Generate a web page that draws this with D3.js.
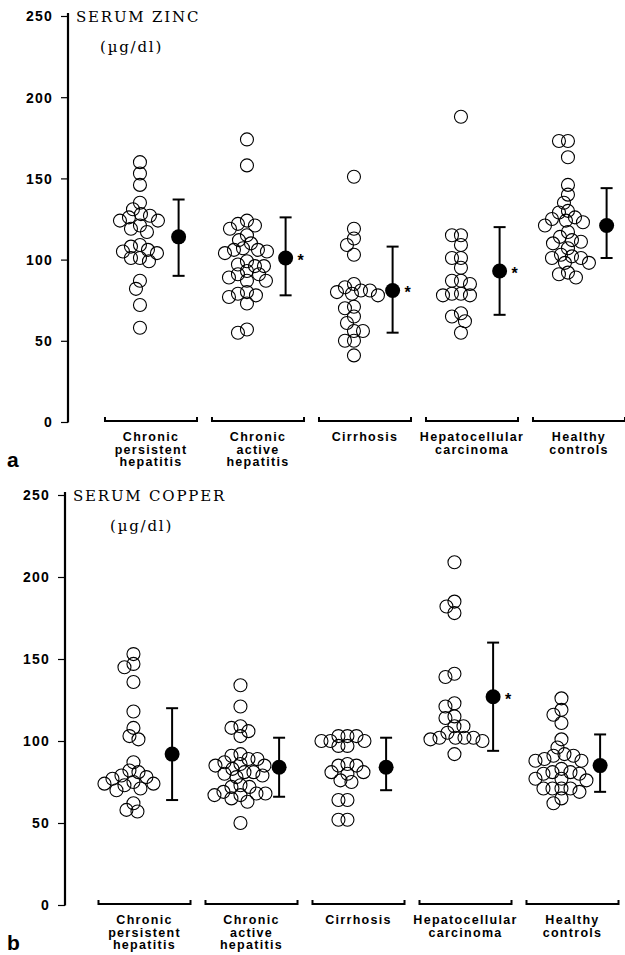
<!DOCTYPE html>
<html>
<head>
<meta charset="utf-8">
<script src="https://cdn.jsdelivr.net/npm/d3@7"></script>
<style>
  body { margin: 0; background: #fff; }
  .tick-lbl { font-family: "Liberation Sans", Arial, sans-serif; font-weight: bold; font-size: 14px; letter-spacing: 1.2px; }
  .grp-lbl { font-family: "Liberation Sans", Arial, sans-serif; font-weight: bold; font-size: 12.5px; letter-spacing: 1.3px; }
  .title { font-family: "DejaVu Serif", serif; font-size: 15px; letter-spacing: 1.8px; }
  .panel-lbl { font-family: "Liberation Sans", Arial, sans-serif; font-weight: bold; font-size: 21px; }
</style>
</head>
<body>
<div class="chart"></div>
<script>
// groups and their labels (multi line)
var groups = ["cph", "cah", "cirr", "hcc", "ctrl"];
var groupLabels = [
  ["Chronic", "persistent", "hepatitis"],
  ["Chronic", "active", "hepatitis"],
  ["Cirrhosis"],
  ["Hepatocellular", "carcinoma"],
  ["Healthy", "controls"]
];
var yTicks = [0, 50, 100, 150, 200, 250];

// serum zinc, individual patients (ug/dl)
var zincCph = [160, 153, 146, 135, 131, 128, 127, 126, 124, 124, 121, 119, 117, 109, 108, 106, 105, 104, 101, 101, 99, 87, 82, 72, 58];
var zincCah = [174, 158, 124, 122, 121, 119, 115, 112, 110, 107, 106, 106, 105, 104, 99, 97, 96, 96, 93, 91, 91, 89, 87, 87, 80, 79, 78, 77, 73, 57, 55];
var zincCirr = [151, 119, 113, 109, 103, 85, 83, 81, 81, 80, 79, 78, 71, 70, 65, 61, 56, 56, 50, 50, 41];
var zincHcc = [188, 115, 115, 109, 101, 101, 95, 87, 87, 85, 79, 79, 78, 78, 65, 67, 62, 55];
var zincCtrl = [173, 173, 163, 146, 140, 135, 130, 129, 126, 125, 124, 123, 121, 117, 114, 112, 111, 110, 107, 103, 102, 101, 101, 98, 98, 92, 91, 89];
// serum zinc, mean and SD bar
var zincMean = [114, 101, 81, 93, 121];
var zincHi = [137, 126, 108, 120, 144];
var zincLo = [90, 78, 55, 66, 101];
var zincStar = [false, true, true, true, false];

// serum copper, individual patients (ug/dl)
var copperCph = [153, 147, 145, 136, 118, 108, 103, 101, 87, 82, 81, 79, 78, 77, 75, 74, 73, 74, 71, 70, 62, 58, 57];
var copperCah = [134, 121, 108, 109, 106, 103, 91, 89, 92, 89, 85, 86, 85, 87, 81, 81, 79, 80, 83, 78, 72, 73, 68, 69, 68, 72, 65, 67, 63, 67, 50];
var copperCirr = [103, 103, 103, 97, 100, 100, 100, 97, 85, 86, 85, 81, 81, 80, 76, 75, 64, 64, 52, 52];
var copperHcc = [209, 185, 182, 178, 141, 139, 123, 121, 115, 114, 109, 109, 105, 102, 102, 102, 102, 101, 100, 92];
var copperCtrl = [126, 116, 119, 111, 101, 96, 91, 92, 88, 88, 91, 89, 83, 81, 80, 80, 81, 77, 76, 77, 71, 71, 71, 71, 69, 65, 62];
// serum copper, mean and SD bar
var copperMean = [92, 84, 84, 127, 85];
var copperHi = [120, 102, 102, 160, 104];
var copperLo = [64, 66, 70, 94, 69];
var copperStar = [false, false, false, true, false];

var svgWidth = 625;
var svgHeight = 955;

var svg = d3.select(".chart")
  .append("svg")
  .attr("width", svgWidth)
  .attr("height", svgHeight);

// simple deterministic beeswarm: push points sideways until they overlap only a little
function dodge(values, yScale, minDist) {
  var order = values.map(function(v, i) { return i; })
    .sort(function(a, b) { return values[b] - values[a]; });
  var placed = [];
  var out = new Array(values.length);
  order.forEach(function(i) {
    var y = yScale(values[i]);
    for (var k = 0; k < 200; k++) {
      var dx = (k % 2 === 0 ? 1 : -1) * Math.ceil(k / 2);
      var ok = placed.every(function(p) {
        var ddx = p.x - dx, ddy = p.y - y;
        return ddx * ddx + ddy * ddy >= minDist * minDist;
      });
      if (ok) break;
    }
    placed.push({x: dx, y: y});
    out[i] = {v: values[i], dx: dx};
  });
  return out;
}

function drawPanel(cfg) {
  var g = svg.append("g");
  var yScale = d3.scaleLinear().domain([0, 250]).range([cfg.y0, cfg.y1]);
  var xBand = d3.scaleBand().domain(groups)
    .range([cfg.bandStart, cfg.bandStart + 535])
    .paddingInner(0.14).paddingOuter(0.07);

  // y axis
  var axis = d3.axisLeft(yScale).tickValues(yTicks).tickSize(7).tickFormat(d3.format("d"));
  var ax = g.append("g")
    .attr("transform", "translate(" + cfg.axisX + ",0)")
    .call(axis);
  ax.select(".domain").attr("d", "M0," + (cfg.y0 + 0.5) + "V" + (cfg.y1 - 3)).attr("stroke-width", 2.2);
  ax.selectAll(".tick line").attr("stroke-width", 1.2);
  ax.selectAll(".tick text").attr("class", "tick-lbl").attr("x", -15).attr("dy", "0.35em").attr("fill", "#000");

  // title
  var t = g.append("text").attr("class", "title")
    .attr("x", cfg.axisX + 8).attr("y", cfg.y1 + 6);
  t.append("tspan").text(cfg.title);
  t.append("tspan").attr("x", cfg.axisX + cfg.unitDx).attr("dy", 30).text("(\u00b5g/dl)");

  groups.forEach(function(grp, gi) {
    var x0 = xBand(grp);
    var bw = xBand.bandwidth();
    var cx = x0 + bw * 0.38;
    var mx = x0 + bw * 0.8;

    // bracket
    g.append("path")
      .attr("d", "M" + x0 + "," + (cfg.y0 - 5) + "V" + (cfg.y0 - 1) + "H" + (x0 + bw) + "V" + (cfg.y0 - 5))
      .attr("fill", "none").attr("stroke", "#000").attr("stroke-width", 2);

    // label
    var lbl = g.append("text").attr("class", "grp-lbl")
      .attr("text-anchor", "middle")
      .attr("x", x0 + bw / 2).attr("y", cfg.y0 + 19);
    groupLabels[gi].forEach(function(line, li) {
      lbl.append("tspan").attr("x", x0 + bw / 2).attr("dy", li === 0 ? 0 : 12.5).text(line);
    });

    // individual points
    var pts = dodge(cfg.points[gi], yScale, 9);
    g.selectAll(null).data(pts).enter().append("circle")
      .attr("cx", function(d) { return cx + d.dx; })
      .attr("cy", function(d) { return yScale(d.v); })
      .attr("r", 6.5)
      .attr("fill", "none").attr("stroke", "#000").attr("stroke-width", 1.1);

    // mean +/- SD
    g.append("line")
      .attr("x1", mx).attr("x2", mx)
      .attr("y1", yScale(cfg.hi[gi])).attr("y2", yScale(cfg.lo[gi]))
      .attr("stroke", "#000").attr("stroke-width", 2);
    [cfg.hi[gi], cfg.lo[gi]].forEach(function(v) {
      g.append("line")
        .attr("x1", mx - 6).attr("x2", mx + 6)
        .attr("y1", yScale(v)).attr("y2", yScale(v))
        .attr("stroke", "#000").attr("stroke-width", 2);
    });
    g.append("circle")
      .attr("cx", mx).attr("cy", yScale(cfg.mean[gi]))
      .attr("r", 7.5).attr("fill", "#000");
    if (cfg.star[gi]) {
      g.append("text")
        .attr("x", mx + 12).attr("y", yScale(cfg.mean[gi]) + 8)
        .attr("font-family", "Liberation Sans, Arial, sans-serif")
        .attr("font-weight", "bold").attr("font-size", "16px")
        .text("*");
    }
  });

  g.append("text").attr("class", "panel-lbl")
    .attr("x", 7).attr("y", cfg.y0 + 45).text(cfg.letter);
}

drawPanel({
  y0: 422, y1: 16, axisX: 68, bandStart: 97.5,
  title: "SERUM ZINC", unitDx: 32, letter: "a",
  points: [zincCph, zincCah, zincCirr, zincHcc, zincCtrl],
  mean: zincMean, hi: zincHi, lo: zincLo, star: zincStar
});

drawPanel({
  y0: 905, y1: 495, axisX: 65, bandStart: 91,
  title: "SERUM COPPER", unitDx: 45, letter: "b",
  points: [copperCph, copperCah, copperCirr, copperHcc, copperCtrl],
  mean: copperMean, hi: copperHi, lo: copperLo, star: copperStar
});
</script>
</body>
</html>
